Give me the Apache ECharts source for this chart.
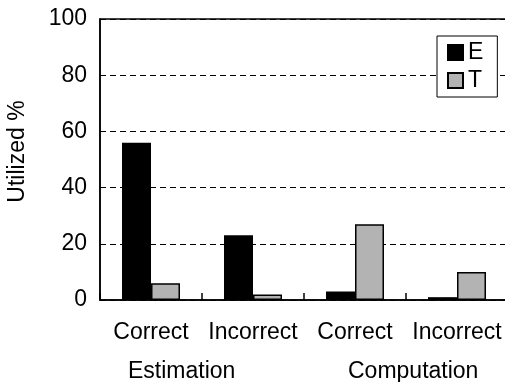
<!DOCTYPE html>
<html>
<head>
<meta charset="utf-8">
<script src="https://cdn.jsdelivr.net/npm/echarts@6/dist/echarts.min.js"></script>
<style>
  html, body { margin: 0; padding: 0; background: #fff; }
  #chart { width: 505px; height: 382px; }
</style>
</head>
<body>
<div id="chart"></div>
<script>
// Utilization by outcome, for estimation and computation tasks
const categories = ['Correct', 'Incorrect', 'Correct', 'Incorrect'];
const groups = ['Estimation', 'Computation'];
const seriesNames = ['E', 'T'];
const valuesE = [56, 23, 3, 1];
const valuesT = [6, 2, 27, 10];
const yTicks = [0, 20, 40, 60, 80, 100];

const FONT = 'Liberation Sans, Arial, sans-serif';
const chart = echarts.init(document.getElementById('chart'), null, { renderer: 'canvas' });

chart.setOption({
  animation: false,
  backgroundColor: '#fff',
  textStyle: { fontFamily: FONT, color: '#000' },
  grid: {
    left: 100, top: 19, width: 408, bottom: 82,
    outerBoundsMode: 'none',
    containLabel: false,
    show: true, borderColor: '#000', borderWidth: 1.5, backgroundColor: 'transparent'
  },
  legend: {
    orient: 'vertical',
    left: 437, top: 36,
    padding: [5, 14, 5, 10],
    itemWidth: 15, itemHeight: 15, itemGap: 5,
    backgroundColor: '#fff',
    borderColor: '#000', borderWidth: 1,
    textStyle: { fontFamily: FONT, fontSize: 23, color: '#000', padding: [0, 0, 0, 0] },
    data: seriesNames.map(function (n) { return { name: n, icon: 'rect' }; })
  },
  xAxis: {
    type: 'category',
    data: categories,
    axisLine: { show: true, lineStyle: { color: '#000', width: 1.5 } },
    axisTick: { show: true, inside: true, length: 7, alignWithLabel: false, lineStyle: { color: '#000', width: 1.5 } },
    axisLabel: { fontFamily: FONT, fontSize: 23, color: '#000', margin: 21, interval: 0 },
    splitLine: { show: false }
  },
  yAxis: {
    type: 'value',
    min: yTicks[0], max: yTicks[yTicks.length - 1], interval: 20,
    name: 'Utilized %',
    nameLocation: 'middle',
    nameGap: 71,
    nameRotate: 90,
    nameTextStyle: { fontFamily: FONT, fontSize: 23, color: '#000', padding: [0, 0, 0, 16] },
    axisLine: { show: true, lineStyle: { color: '#000', width: 1.5 } },
    axisTick: { show: false },
    axisLabel: { fontFamily: FONT, fontSize: 23, color: '#000', margin: 13 },
    splitLine: { show: true, lineStyle: { color: '#000', width: 1, type: [6, 4] } }
  },
  series: [
    {
      name: seriesNames[0], type: 'bar', data: valuesE,
      barWidth: 29, barGap: '0%',
      itemStyle: { color: '#000', borderColor: '#000', borderWidth: 1.5 }
    },
    {
      name: seriesNames[1], type: 'bar', data: valuesT,
      barWidth: 29, barGap: '0%',
      itemStyle: { color: '#b3b3b3', borderColor: '#000', borderWidth: 1.5 }
    }
  ],
  graphic: [
    { type: 'text', left: 128, top: 360, style: { text: groups[0], font: '23px ' + FONT, fill: '#000' } },
    { type: 'text', left: 348, top: 360, style: { text: groups[1], font: '23px ' + FONT, fill: '#000' } }
  ]
});
</script>
</body>
</html>
